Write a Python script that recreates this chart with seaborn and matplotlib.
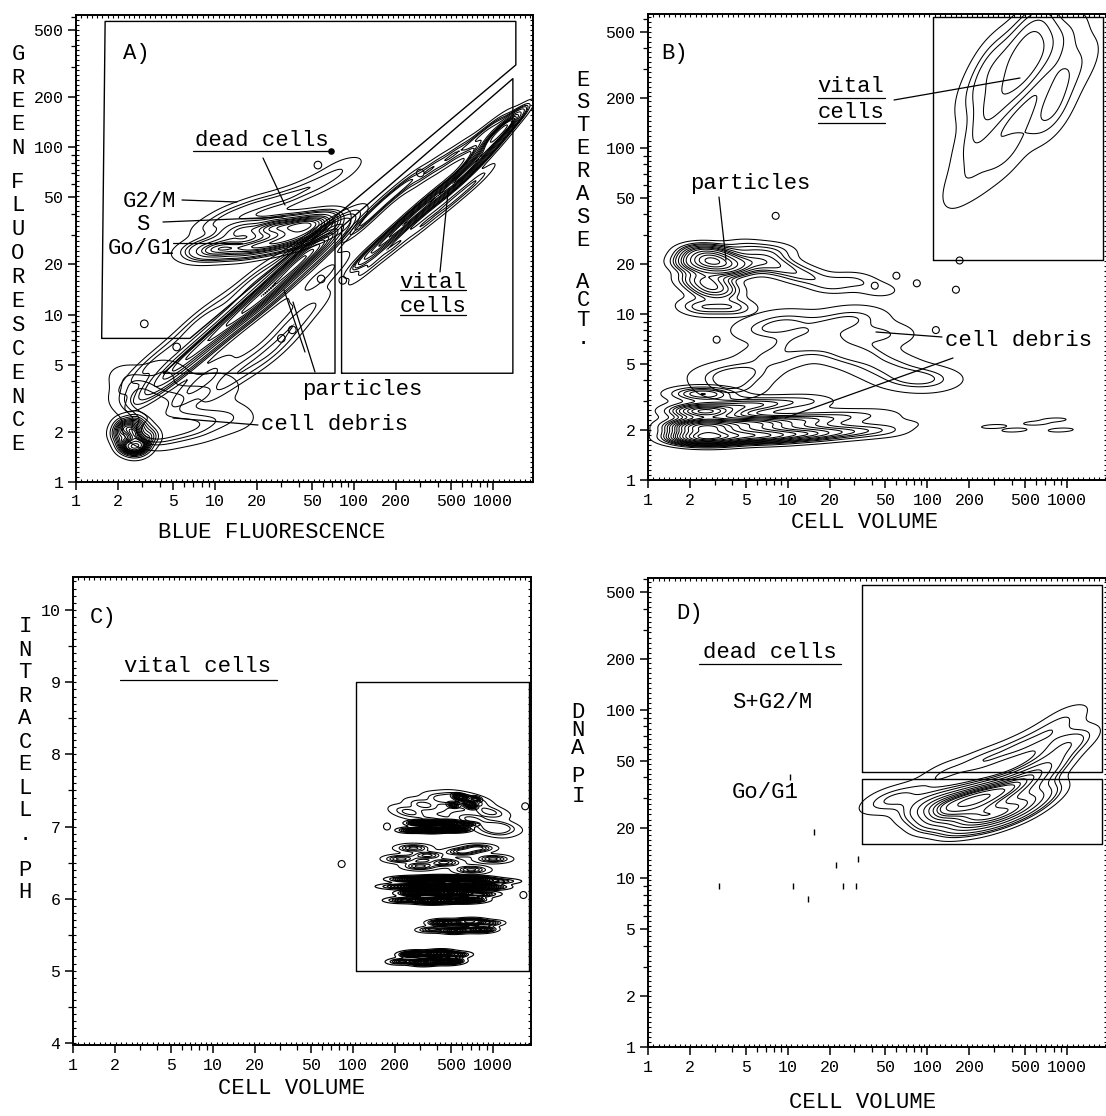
import numpy as np
import matplotlib
matplotlib.use("Agg")
import matplotlib.pyplot as plt
from matplotlib.lines import Line2D
from matplotlib.font_manager import FontProperties
from matplotlib.ticker import LogLocator, MultipleLocator, NullFormatter
import seaborn as sns

sns.set_style("ticks", {"axes.edgecolor": "black", "xtick.color": "black",
                        "ytick.color": "black", "text.color": "black"})
plt.rcParams["font.family"] = ["Liberation Mono", "DejaVu Sans Mono"]

W, H = 1106, 1116

log_ticks = [1, 2, 5, 10, 20, 50, 100, 200, 500, 1000]
log_labels = ["1", "2", "5", "10", "20", "50", "100", "200", "500", "1000"]
ph_ticks = [4, 5, 6, 7, 8, 9, 10]
ph_labels = ["4", "5", "6", "7", "8", "9", "10"]

# ---------------- panel A: blue vs green fluorescence ----------------
a_core_x = [2.0, 2.2, 2.5, 2.8, 3.1, 3.5, 2.3, 2.7, 3.1, 2.1, 2.6]
a_core_y = [1.9, 1.65, 1.6, 1.62, 1.7, 1.9, 2.2, 2.3, 2.15, 2.1, 1.95]
a_core_w = [3, 4, 5, 5, 4, 3, 3, 3, 2, 3, 6]

a_fan_x = [3.5, 5, 7, 10, 14, 3.5, 5, 7.5, 11, 3, 4.5, 2.6, 2.4]
a_fan_y = [2.0, 2.1, 2.2, 2.35, 2.5, 2.8, 3.1, 3.4, 3.8, 3.6, 4.4, 3.0, 4.2]
a_fan_w = [4, 3, 2.5, 1.5, 1, 3, 2, 1.5, 1, 2, 1.5, 2, 1]

a_part_x = [4.5, 6.5, 10.3, 16, 23.7, 36.5, 54, 3.5, 7.8, 18.8, 41, 64, 8, 13.5, 26, 41, 57]
a_part_y = [4.3, 5.6, 7.7, 10.5, 13.4, 19.2, 25.4, 5.0, 9.0, 15.5, 22.5, 27.5,
            4.0, 4.3, 6.1, 9.7, 16.7]
a_part_w = [2, 2.5, 3, 3.5, 4, 4, 3, 1, 1, 1, 1, 1, 0.8, 0.8, 0.8, 0.8, 0.8]

a_dead_x = [7, 9, 12, 18, 27, 40, 58, 15, 25, 38, 55, 9.5, 13, 20, 32, 50, 72, 90]
a_dead_y = [25.5, 24.5, 24.5, 25, 26.5, 28.5, 32, 32, 33, 34, 36, 34, 40, 45, 50, 58, 68, 80]
a_dead_w = [1, 2.5, 3, 3.5, 3.5, 3, 2, 3, 4, 4, 3, 1, 1, 1.2, 1.2, 1, 0.8, 0.5]

a_vital_x = [130, 180, 250, 350, 500, 680, 880, 1080, 1200, 115, 160, 230, 340, 500, 740,
             980, 125, 200, 320, 500, 760]
a_vital_y = [23, 29, 37, 47, 59, 74, 94, 118, 132, 35, 46, 59, 72, 88, 108, 130,
             19, 26, 35, 47, 63]
a_vital_w = [2, 2.5, 3, 3, 3, 3, 3, 4, 3.5, 1, 1, 1, 1, 1, 1, 1, 0.8, 0.8, 0.8, 0.8, 0.8]

a_events_x = [3.1, 5.3, 30, 36, 58, 83, 55, 300]
a_events_y = [8.8, 6.4, 7.2, 8.1, 16.3, 16, 78, 70]
a_dot_x = [68]
a_dot_y = [94.7]

a_gate_dead_x = [1.53, 1.62, 1460, 1460, 6.6, 1.53]
a_gate_dead_y = [7.2, 562, 562, 309, 7.2, 7.2]
a_gate_part_x = [4.25, 73, 73, 4.25]
a_gate_part_y = [4.46, 4.46, 36.7, 4.46]
a_gate_vital_x = [81.4, 1390, 1390, 81.4, 81.4]
a_gate_vital_y = [4.46, 4.46, 256, 33.3, 4.46]

# ---------------- panel B: cell volume vs esterase activity ----------------
b_band_x = [2.2, 2.2, 2.2, 2.2, 3, 3, 3, 3, 5, 5, 5, 8, 8, 8, 14, 14, 14, 25, 25, 45, 45, 80]
b_band_y = [1.8, 2.1, 2.6, 3.3, 1.8, 2.1, 2.6, 3.3, 1.85, 2.2, 2.8, 1.85, 2.2, 2.9,
            1.9, 2.3, 3.0, 1.95, 2.4, 2.0, 2.5, 2.2]
b_band_w = [9, 8, 5, 3, 8, 7, 4, 2, 7, 5, 3, 6, 4, 2, 5, 3, 1.5, 3, 2, 2, 1, 0.6]

b_debris_x = [5, 8, 12, 18, 25, 35, 50, 70, 100, 10, 20, 30, 7, 45, 3.5, 4]
b_debris_y = [4.5, 5.5, 6.5, 7, 6, 5.5, 4.8, 4.2, 4.0, 9, 8.5, 9.5, 8, 7.5, 4.2, 3.6]
b_debris_w = [1, 1, 1, 1, 1, 1, 1, 1, 1, 1, 1, 1, 1, 1, 1, 1]

b_part_x = [2.3, 2.6, 3.0, 3.4, 2.5, 3.0, 4.5, 6.5, 9, 13, 20, 30, 45, 2.4, 4, 5, 8]
b_part_y = [20, 23, 21, 19, 16, 14, 20, 21, 19, 17, 15, 16, 14, 11, 11, 25, 24]
b_part_w = [4, 5, 6, 4, 3, 3, 2, 2, 1.5, 1.2, 1, 0.8, 0.6, 1.5, 1.5, 1, 1]

b_vital_x = [460, 300, 650, 220, 170, 520, 900, 1300, 380, 700, 1000, 300, 230, 600,
             800, 450, 250]
b_vital_y = [265, 180, 380, 110, 60, 480, 260, 330, 100, 160, 450, 330, 220, 520,
             170, 350, 70]
b_vital_w = [5, 4, 4, 2, 1.2, 2.5, 2, 1, 2, 1.5, 1.5, 3, 2, 2, 1.5, 3, 1]

b_islands_x = [300, 420, 600, 800, 900]
b_islands_y = [2.1, 2.0, 2.2, 2.3, 2.0]
b_islands_w = [1, 1, 1, 1, 1]

b_events_x = [8.2, 84, 42, 170, 160, 115, 60, 3.1]
b_events_y = [39, 15.3, 14.8, 21, 14, 8, 17, 7]

b_gate_x = [110, 110, 1800, 1800, 110]
b_gate_y = [21, 614, 614, 21, 21]

# ---------------- panel C: cell volume vs intracellular pH ----------------
c_upper_x = [250, 320, 430, 560, 720, 950, 1150, 400, 700, 1000]
c_upper_y = [7.2, 7.3, 7.38, 7.4, 7.35, 7.2, 7.0, 7.05, 7.1, 6.95]
c_upper_w = [1, 1, 1, 1, 1, 1, 1, 1, 1, 1]

c_b735_x = [520, 600, 680, 750, 560, 700]
c_b735_y = [7.3, 7.4, 7.32, 7.38, 7.42, 7.28]
c_b735_w = [1, 2, 2, 1, 1, 1]

c_b700_x = [260, 310, 370, 450, 540, 620]
c_b700_y = [6.95, 7.05, 6.95, 7.05, 6.96, 7.03]
c_b700_w = [1, 2, 2, 2, 2, 1]

c_mid_x = [220, 270, 340, 450, 600, 780, 1000, 300, 700]
c_mid_y = [6.55, 6.7, 6.6, 6.5, 6.65, 6.7, 6.55, 6.45, 6.4]
c_mid_w = [1, 1, 1, 1, 1, 1, 1, 1, 1]

c_b622_x = [210, 260, 320, 420, 550, 700, 880, 1100]
c_b622_y = [6.17, 6.27, 6.16, 6.28, 6.17, 6.27, 6.16, 6.24]
c_b622_w = [1, 2, 3, 3, 3, 3, 2, 1]

c_b603_x = [230, 290, 380, 500, 650, 820]
c_b603_y = [5.98, 6.08, 5.97, 6.08, 5.98, 6.06]
c_b603_w = [1, 2, 3, 3, 2, 1]

c_b562_x = [360, 440, 540, 680, 820, 950]
c_b562_y = [5.57, 5.67, 5.56, 5.68, 5.57, 5.66]
c_b562_w = [1, 2, 2, 3, 2, 1]

c_b518_x = [220, 270, 330, 410, 490, 560]
c_b518_y = [5.13, 5.23, 5.12, 5.24, 5.13, 5.22]
c_b518_w = [1, 2, 3, 3, 2, 1]

c_events_x = [83, 175, 1650, 1700]
c_events_y = [6.48, 7.0, 6.05, 7.28]

c_gate_x = [105, 1800, 1800, 105, 105]
c_gate_y = [5, 5, 9, 9, 5]

# ---------------- panel D: cell volume vs DNA (PI) ----------------
d_dead_x = [230, 150, 350, 100, 500, 700, 950, 65, 45, 130, 200, 300, 450, 620,
            130, 250, 450, 750, 1050, 1200]
d_dead_y = [30, 28, 33, 27, 38, 46, 60, 30, 29, 23.5, 22.5, 23.5, 26, 31,
            42, 50, 60, 75, 95, 70]
d_dead_w = [6, 4, 4, 2.5, 3, 2, 1.5, 1.2, 0.8, 3, 4, 4, 3, 2, 1, 1.2, 1.2, 1, 0.7, 0.7]

d_events_x = [10.4, 15.5, 3.2, 11, 14, 22, 25, 31, 32]
d_events_y = [40, 19, 9, 9, 7.6, 12, 9, 9, 13]

d_gate_up_x = [34, 34, 1780, 1780, 34]
d_gate_up_y = [43, 550, 550, 43, 43]
d_gate_lo_x = [34, 34, 1780, 1780, 34]
d_gate_lo_y = [16, 39, 39, 16, 16]


def rect(l, r, t, b):
    return [l / W, 1 - b / H, (r - l) / W, (b - t) / H]


def density(ax, xs, ys, ws, levels, bw, ylog=True, lw=0.75):
    sns.kdeplot(x=np.array(xs, float), y=np.array(ys, float), weights=np.array(ws, float),
                levels=levels, bw_adjust=bw, log_scale=(True, ylog), color="black",
                linewidths=lw, gridsize=180, cut=4, ax=ax)


def frame(ax, xmax, ylim, ylog=True):
    ax.set_xscale("log")
    ax.set_xlim(1, xmax)
    ax.set_xticks(log_ticks, labels=log_labels)
    ax.xaxis.set_minor_locator(LogLocator(base=10, subs=(3, 4, 6, 7, 8, 9), numticks=40))
    ax.xaxis.set_minor_formatter(NullFormatter())
    if ylog:
        ax.set_yscale("log")
        ax.set_yticks(log_ticks, labels=log_labels)
        ax.yaxis.set_minor_locator(LogLocator(base=10, subs=(3, 4, 6, 7, 8, 9), numticks=40))
        ax.yaxis.set_minor_formatter(NullFormatter())
    else:
        ax.set_yticks(ph_ticks, labels=ph_labels)
        ax.yaxis.set_minor_locator(MultipleLocator(0.5))
    ax.set_ylim(*ylim)
    ax.tick_params(which="major", direction="out", length=6, width=1.1, labelsize=12, pad=3)
    ax.tick_params(which="minor", direction="out", length=3.5, width=0.9)
    ax.set_xlabel("")
    ax.set_ylabel("")
    for s in ax.spines.values():
        s.set_visible(True)
        s.set_linewidth(1.4)
        s.set_color("black")


def fine_ticks(fig, r, xspan, yspan, xstep, ystep):
    ov = fig.add_axes(r, facecolor="none")
    ov.set_xlim(*xspan)
    ov.set_ylim(*yspan)
    ov.xaxis.set_major_locator(MultipleLocator(xstep))
    ov.yaxis.set_major_locator(MultipleLocator(ystep))
    ov.tick_params(direction="in", length=2.5, width=0.8, top=True, right=True,
                   labelbottom=False, labelleft=False)
    for s in ov.spines.values():
        s.set_visible(False)


def txt(fig, px, py, s, size=16, ha="center"):
    fig.text(px / W, 1 - py / H, s, ha=ha, va="center", fontsize=size,
             family="Liberation Mono")


def seg(fig, x0, y0, x1, y1, lw=0.9):
    fig.add_artist(Line2D([x0 / W, x1 / W], [1 - y0 / H, 1 - y1 / H],
                          transform=fig.transFigure, color="black", lw=lw))


def stacked(fig, px, first, step, word, size=16):
    # one text block per word, letters stacked with the plotter's line pitch
    prop = FontProperties(family="Liberation Mono", size=size)
    rend = fig.canvas.get_renderer()
    _, h, d = rend.get_text_width_height_descent("lp", prop, ismath=False)
    ls = (step - d) / (h - d)
    mid = first + step * (len(word) - 1) / 2
    fig.text(px / W, 1 - mid / H, "\n".join(word), ha="center", va="center",
             multialignment="center", fontproperties=prop, linespacing=ls)


fig = plt.figure(figsize=(W / 100, H / 100), dpi=100)

many = list(np.linspace(0.04, 0.96, 12))
dense = list(np.linspace(0.03, 0.97, 16))
few = [0.05, 0.3, 0.6]

# ---- A ----
rA = rect(76, 533, 15, 482)
axA = fig.add_axes(rA)
density(axA, a_core_x, a_core_y, a_core_w, dense, 0.9)
density(axA, a_fan_x, a_fan_y, a_fan_w, [0.05, 0.25, 0.45, 0.65], 0.7)
density(axA, a_part_x, a_part_y, a_part_w, many, 0.6)
density(axA, a_dead_x, a_dead_y, a_dead_w, many, 0.6)
density(axA, a_vital_x, a_vital_y, a_vital_w, many, 0.45)
axA.scatter(a_events_x, a_events_y, s=30, facecolors="none", edgecolors="black", linewidths=0.8)
axA.scatter(a_dot_x, a_dot_y, s=14, color="black")
for gx, gy in [(a_gate_dead_x, a_gate_dead_y), (a_gate_part_x, a_gate_part_y),
               (a_gate_vital_x, a_gate_vital_y)]:
    axA.plot(gx, gy, color="black", lw=1.0)
frame(axA, 1940, (1, 614))
fine_ticks(fig, rA, (0, np.log10(1940)), (0, np.log10(614)), 0.038, 0.03)

# ---- B ----
rB = rect(648, 1107, 14, 480)
axB = fig.add_axes(rB)
density(axB, b_band_x, b_band_y, b_band_w, dense, 0.6)
density(axB, b_debris_x, b_debris_y, b_debris_w, few, 0.5)
density(axB, b_part_x, b_part_y, b_part_w, many, 0.55)
density(axB, b_vital_x, b_vital_y, b_vital_w, [0.05, 0.2, 0.4, 0.6, 0.8], 0.75)
density(axB, b_islands_x, b_islands_y, b_islands_w, [0.3], 0.4)
axB.scatter(b_events_x, b_events_y, s=25, facecolors="none", edgecolors="black", linewidths=0.8)
axB.plot(b_gate_x, b_gate_y, color="black", lw=1.0)
frame(axB, 1930, (1, 641))
fine_ticks(fig, rB, (0, np.log10(1930)), (0, np.log10(641)), 0.038, 0.03)

# ---- C ----
rC = rect(73, 531, 577, 1045)
axC = fig.add_axes(rC)
density(axC, c_upper_x, c_upper_y, c_upper_w, few, 0.5, ylog=False)
density(axC, c_b735_x, c_b735_y, c_b735_w, many, 0.6, ylog=False)
density(axC, c_b700_x, c_b700_y, c_b700_w, dense, 0.6, ylog=False, lw=0.85)
density(axC, c_mid_x, c_mid_y, c_mid_w, [0.05, 0.25, 0.45, 0.65, 0.85], 0.45, ylog=False)
density(axC, c_b622_x, c_b622_y, c_b622_w, dense, 0.6, ylog=False, lw=0.85)
density(axC, c_b603_x, c_b603_y, c_b603_w, dense, 0.6, ylog=False, lw=0.85)
density(axC, c_b562_x, c_b562_y, c_b562_w, many, 0.6, ylog=False)
density(axC, c_b518_x, c_b518_y, c_b518_w, dense, 0.6, ylog=False, lw=0.85)
axC.scatter(c_events_x, c_events_y, s=25, facecolors="none", edgecolors="black", linewidths=0.8)
axC.plot(c_gate_x, c_gate_y, color="black", lw=1.0)
frame(axC, 1870, (3.97, 10.46), ylog=False)
fine_ticks(fig, rC, (0, np.log10(1870)), (3.97, 10.46), 0.038, 0.1)

# ---- D ----
rD = rect(648, 1107, 578, 1047)
axD = fig.add_axes(rD)
density(axD, d_dead_x, d_dead_y, d_dead_w, many, 0.65)
axD.scatter(d_events_x, d_events_y, s=14, marker="|", color="black", linewidths=1.0)
axD.plot(d_gate_up_x, d_gate_up_y, color="black", lw=1.0)
axD.plot(d_gate_lo_x, d_gate_lo_y, color="black", lw=1.0)
frame(axD, 1930, (1, 607))
fine_ticks(fig, rD, (0, np.log10(1930)), (0, np.log10(607)), 0.038, 0.03)

# ---- axis titles (stacked letters like the original plotter) ----
stacked(fig, 18, 55, 23.3, "GREEN")
stacked(fig, 18, 182, 23.9, "FLUORESCENCE")
stacked(fig, 583, 80, 22.9, "ESTERASE")
stacked(fig, 583, 282, 19, "ACT.")
stacked(fig, 25, 627, 23, "INTRACELL.")
stacked(fig, 25, 870, 23, "PH")
stacked(fig, 578, 712, 18, "DNA")
stacked(fig, 578, 777, 20, "PI")

txt(fig, 272, 533, "BLUE FLUORESCENCE")
txt(fig, 865, 522, "CELL VOLUME")
txt(fig, 292, 1088, "CELL VOLUME")
txt(fig, 863, 1103, "CELL VOLUME")

# ---- panel annotations ----
txt(fig, 136, 54, "A)")
txt(fig, 262, 141, "dead cells")
seg(fig, 193, 151, 330, 151)
txt(fig, 150, 201, "G2/M")
txt(fig, 143, 224, "S")
txt(fig, 141, 248, "Go/G1")
txt(fig, 433, 283, "vital")
txt(fig, 433, 307, "cells")
seg(fig, 400, 290, 466, 290)
seg(fig, 400, 315, 466, 315)
txt(fig, 362, 390, "particles")
txt(fig, 335, 425, "cell debris")
for x0, y0, x1, y1 in [(263, 158, 285, 205), (182, 200, 237, 202), (163, 222, 283, 217),
                       (173, 243, 242, 243), (440, 272, 448, 192), (305, 352, 284, 290),
                       (315, 372, 293, 302), (258, 425, 173, 418)]:
    seg(fig, x0, y0, x1, y1)

txt(fig, 675, 53, "B)")
txt(fig, 851, 87, "vital")
txt(fig, 851, 112, "cells")
seg(fig, 818, 98, 885, 98)
seg(fig, 818, 123, 885, 123)
txt(fig, 750, 183, "particles")
txt(fig, 1019, 340, "cell debris")
for x0, y0, x1, y1 in [(894, 100, 1020, 78), (719, 197, 726, 260), (942, 337, 876, 332),
                       (953, 358, 785, 418)]:
    seg(fig, x0, y0, x1, y1)

txt(fig, 103, 617, "C)")
txt(fig, 198, 666, "vital cells")
seg(fig, 120, 680, 277, 680)

txt(fig, 690, 614, "D)")
txt(fig, 770, 652, "dead cells")
seg(fig, 699, 664, 841, 664)
txt(fig, 772, 702, "S+G2/M")
txt(fig, 765, 793, "Go/G1")

fig.savefig("out.png", dpi=100)
